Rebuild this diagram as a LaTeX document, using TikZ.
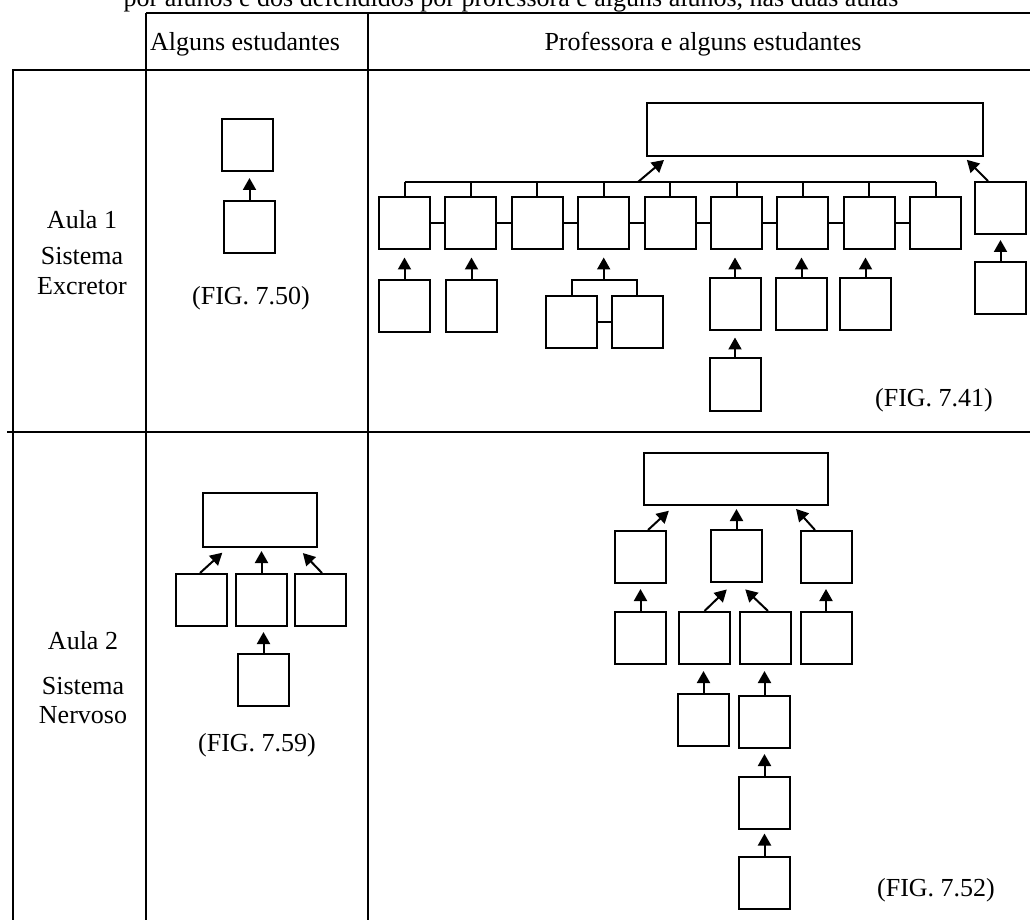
\documentclass[tikz,border=0pt]{standalone}
\usepackage{fontspec}
\setmainfont{Liberation Serif}
\usetikzlibrary{arrows.meta, calc}

\begin{document}
\begin{tikzpicture}[x = 0.5pt, y = -0.5pt,
        caixa/.style = {draw, line width = 1pt, minimum width = 25.5pt, minimum height = 26pt, inner sep = 0pt},
        seta/.style = {line width = 1pt, -{Triangle[width = 6.5pt, length = 6pt]}, shorten > = #1},
        seta/.default = 2.5pt,
        liga/.style = {line width = 1pt},
        grade/.style = {line width = 0.9pt},
        texto/.style = {font = \fontsize{13pt}{15.6pt}\selectfont, inner sep = 0pt}]
    \useasboundingbox (0,0) rectangle (1030,920);

    % tabela
    \draw[grade] (146,13) -- (1030,13)
                 (12,70) -- (1030,70)
                 (7,432) -- (1030,432)
                 (13,70) -- (13,920)
                 (146,13) -- (146,920)
                 (368,13) -- (368,920);

    \node[texto, anchor = base] (titulo) at (511,7) {por alunos e dos defendidos por professora e alguns alunos, nas duas aulas};
    \node[texto, anchor = base] (cab1) at (245,51) {Alguns estudantes};
    \node[texto, anchor = base] (cab2) at (703,51) {Professora e alguns estudantes};

    \node[texto, anchor = base] (aula1) at (82,228) {Aula 1};
    \node[texto, anchor = base] (sist1) at (82,265) {Sistema};
    \node[texto, anchor = base] (excr) at (82,295) {Excretor};
    \node[texto, anchor = base] (aula2) at (83,649) {Aula 2};
    \node[texto, anchor = base] (sist2) at (83,694) {Sistema};
    \node[texto, anchor = base] (nerv) at (83,723) {Nervoso};

    % aula 1, alguns estudantes
    \node[caixa] (a1) at (247.5,145) {};
    \node[caixa] (a2) at (249.5,227) {};
    \draw[seta = 3pt] (a2.north) -- (a2.north |- a1.south);
    \node[texto] (fig50) at (251,298) {(FIG. 7.50)};

    % aula 1, professora e alguns estudantes
    \node[caixa, minimum width = 168pt, minimum height = 26.5pt] (t1) at (815,129.5) {};
    \foreach \i in {1,...,9} {
        \node[caixa] (r\i) at ({404.5 + 66.4*(\i - 1)},223.5) {};
    }
    \coordinate (barra) at (0,182);
    \draw[liga] (r1.north |- barra) -- (r9.north |- barra);
    \foreach \i in {1,...,9}
        \draw[liga] (r\i.north) -- (r\i.north |- barra);
    \foreach \i [remember = \i as \j (initially 1)] in {2,...,9}
        \draw[liga] (r\j.east) -- (r\i.west);
    \coordinate (b0) at (638,182);
    \draw[seta = 2.3pt] (b0) -- ($(t1.south west) + (21.5,0)$);

    \node[caixa] (r10) at (1000.5,208) {};
    \node[caixa] (r10b) at (1000.5,288.5) {};
    \draw[seta = 2pt] ($(r10.north) + (-12.5,0)$) -- ($(t1.south east) + (-20,0)$);
    \draw[seta] (r10b.north) -- (r10.south);

    \node[caixa] (s1) at (404.5,306) {};
    \node[caixa] (s2) at (471.5,306) {};
    \node[caixa] (s6) at (735,304.5) {};
    \node[caixa] (s7) at (801.5,304.5) {};
    \node[caixa] (s8) at (865.5,304.5) {};
    \node[caixa] (s6b) at (735,384.5) {};
    \foreach \i in {1,2,6,7,8}
        \draw[seta = 3.5pt] (s\i.north) -- (s\i.north |- r\i.south);
    \draw[seta = 3pt] (s6b.north) -- (s6.south);

    \node[caixa] (p1) at (571.5,322) {};
    \node[caixa] (p2) at (637,322) {};
    \coordinate (barrap) at (0,280);
    \coordinate (p0) at (603.7,280);
    \draw[liga] (p1.north) -- (p1.north |- barrap) -- (p2.north |- barrap) -- (p2.north);
    \draw[liga] (p1.east) -- (p2.west);
    \draw[seta = 3.5pt] (p0) -- (r4.south);
    \node[texto] (fig41) at (934,400) {(FIG. 7.41)};

    % aula 2, alguns estudantes
    \node[caixa, minimum width = 57pt, minimum height = 27pt] (n0) at (260,520) {};
    \node[caixa] (n1) at (201.5,600) {};
    \node[caixa] (n2) at (261.5,600) {};
    \node[caixa] (n3) at (320,600) {};
    \node[caixa] (n4) at (263.5,680) {};
    \draw[seta = 3.5pt] ($(n1.north) + (-1.5,0)$) -- ($(n0.south west) + (25.5,0)$);
    \draw[seta = 1.5pt] (n2.north) -- (n2.north |- n0.south);
    \draw[seta = 3.5pt] ($(n3.north) + (2,0)$) -- ($(n0.south east) + (-20,0)$);
    \draw[seta] (n4.north) -- (n4.north |- n2.south);
    \node[texto] (fig59) at (257,745) {(FIG. 7.59)};

    % aula 2, professora e alguns estudantes
    \node[caixa, minimum width = 92pt, minimum height = 26pt] (m0) at (736,479) {};
    \node[caixa] (m1) at (640.5,557) {};
    \node[caixa] (m2) at (736.5,555.5) {};
    \node[caixa] (m3) at (826,557) {};
    \draw[seta = 3.5pt] ($(m1.north) + (7.5,0)$) -- ($(m0.south west) + (31,0)$);
    \draw[seta = 1.5pt] (m2.north) -- (m2.north |- m0.south);
    \draw[seta = 2pt] ($(m3.north) + (-11,0)$) -- ($(m0.south east) + (-35.6,0)$);

    \node[caixa] (k1) at (640.5,638) {};
    \node[caixa] (k2) at (704.5,638) {};
    \node[caixa] (k3) at (765.5,638) {};
    \node[caixa] (k4) at (826,638) {};
    \draw[seta] (k1.north) -- (k1.north |- m1.south);
    \draw[seta = 5pt] (k2.north) -- ($(m2.south) + (-2.5,0)$);
    \draw[seta = 5pt] ($(k3.north) + (2.5,0)$) -- ($(m2.south) + (1.5,0)$);
    \draw[seta] (k4.north) -- (k4.north |- m3.south);

    \node[caixa] (j2) at (703.5,720) {};
    \node[caixa] (j3) at (764.5,722) {};
    \node[caixa] (g3) at (764.5,802.5) {};
    \node[caixa] (h3) at (764.5,882.5) {};
    \draw[seta = 3pt] (j2.north) -- (j2.north |- k2.south);
    \draw[seta = 3pt] (j3.north) -- (j3.north |- k3.south);
    \draw[seta] (g3.north) -- (j3.south);
    \draw[seta = 2pt] (h3.north) -- (g3.south);
    \node[texto] (fig52) at (936,890) {(FIG. 7.52)};
\end{tikzpicture}
\end{document}
